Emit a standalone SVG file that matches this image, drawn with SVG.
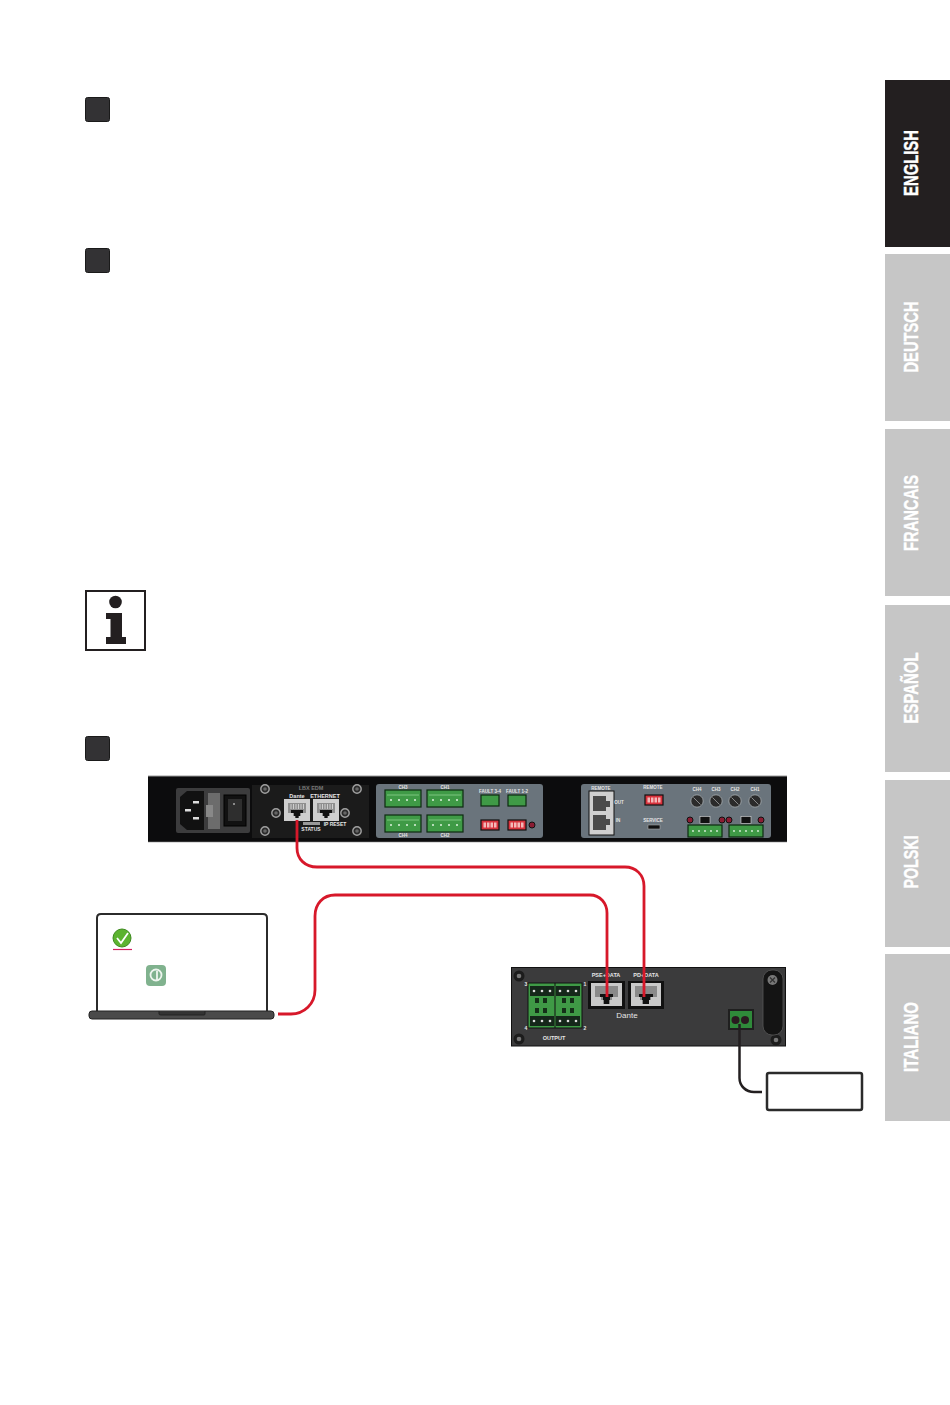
<svg xmlns="http://www.w3.org/2000/svg" xmlns:xlink="http://www.w3.org/1999/xlink" width="950" height="1405" viewBox="0 0 950 1405">
<style>
.tab{fill:#c6c6c6}
.tabt{font-family:"Liberation Sans",Arial,sans-serif;font-weight:700;font-size:21px;fill:#fff;stroke:#fff;stroke-width:.4;text-anchor:middle}
.step{fill:#333234;stroke:#1a1a1a;stroke-width:1}
.w{font-family:"Liberation Sans",Arial,sans-serif;font-weight:700;fill:#e6e6e6;text-anchor:middle}
.red{fill:none;stroke:#d7182a;stroke-width:2.8}
.blk{fill:none;stroke:#231f20;stroke-width:2.500}
.screw{fill:#2a2a2a;stroke:#a0a0a0;stroke-width:1.400}
.panel{fill:#6a747c}
.grn{fill:#3f9a46;stroke:#0d2b10;stroke-width:1.200}
.dip{fill:#d8323c;stroke:#111;stroke-width:1.200}
.sw{fill:#f3b9b9}
.led{fill:#8b1d33;stroke:#111;stroke-width:1}
.knob{fill:#2b2b2b;stroke:#aab0b4;stroke-width:.8}
</style>
<defs>
<g id="rj">
<rect x="0" y="0" width="26" height="22" fill="#cfcfcf"/>
<path d="M4 4H22V14H17V17H15V19H11V17H9V14H4Z" fill="#8f8f8f"/>
<path d="M7 11H19V14H16V17H14.500V19H11.500V17H10V14H7Z" fill="#111"/>
<path d="M7 5V10M9.500 5V10M12 5V10M14.500 5V10M17 5V10M19.500 5V10" stroke="#e0e0e0" stroke-width=".8"/>
</g>
<g id="term">
<rect x="0" y="0" width="36" height="17" class="grn"/>
<path d="M2 5H34" stroke="#7cc57f" stroke-width="1"/>
<circle cx="6" cy="10" r="1" fill="#dff2df"/><circle cx="14" cy="10" r="1" fill="#dff2df"/><circle cx="22" cy="10" r="1" fill="#dff2df"/><circle cx="30" cy="10" r="1" fill="#dff2df"/>
</g>
<g id="term5">
<rect x="0" y="0" width="34" height="12" class="grn"/>
<circle cx="5" cy="6" r=".9" fill="#dff2df"/><circle cx="11" cy="6" r=".9" fill="#dff2df"/><circle cx="17" cy="6" r=".9" fill="#dff2df"/><circle cx="23" cy="6" r=".9" fill="#dff2df"/><circle cx="29" cy="6" r=".9" fill="#dff2df"/>
</g>
<g id="dip4">
<rect x="0" y="0" width="18" height="10" class="dip"/>
<rect x="2.500" y="2.500" width="2.500" height="5" class="sw"/><rect x="6" y="2.500" width="2.500" height="5" class="sw"/><rect x="9.500" y="2.500" width="2.500" height="5" class="sw"/><rect x="13" y="2.500" width="2.500" height="5" class="sw"/>
</g>
<g id="knob"><circle r="6.200" class="knob"/><path d="M-3.500 -3.500L3.500 3.500" stroke="#888" stroke-width="1"/></g>
<g id="scr"><circle r="4.200" class="screw"/><circle r="1.800" fill="#666"/></g>
<g id="scr2"><circle r="5.500" fill="#1c1c1c"/><circle r="2.300" fill="#777"/></g>
<g id="blk3"><rect width="24" height="10" fill="#15271a"/><circle cx="4" cy="5" r="1.300" fill="#ddd"/><circle cx="12" cy="5" r="1.300" fill="#ddd"/><circle cx="20" cy="5" r="1.300" fill="#ddd"/></g>
</defs>
<rect width="950" height="1405" fill="#fff"/>

<g id="tab-english"><rect x="885" y="80" width="65" height="167" fill="#231f20"/><text class="tabt" transform="translate(918 163) rotate(-90)" textLength="66" lengthAdjust="spacingAndGlyphs">ENGLISH</text></g>
<g id="tab-deutsch"><rect class="tab" x="885" y="254" width="65" height="167"/><text class="tabt" transform="translate(918 337) rotate(-90)" textLength="71" lengthAdjust="spacingAndGlyphs">DEUTSCH</text></g>
<g id="tab-francais"><rect class="tab" x="885" y="429" width="65" height="167"/><text class="tabt" transform="translate(918 513) rotate(-90)" textLength="76" lengthAdjust="spacingAndGlyphs">FRANCAIS</text></g>
<g id="tab-espanol"><rect class="tab" x="885" y="605" width="65" height="167"/><text class="tabt" transform="translate(918 688) rotate(-90)" textLength="71" lengthAdjust="spacingAndGlyphs">ESPAÑOL</text></g>
<g id="tab-polski"><rect class="tab" x="885" y="780" width="65" height="167"/><text class="tabt" transform="translate(918 862) rotate(-90)" textLength="53" lengthAdjust="spacingAndGlyphs">POLSKI</text></g>
<g id="tab-italiano"><rect class="tab" x="885" y="954" width="65" height="167"/><text class="tabt" transform="translate(918 1037) rotate(-90)" textLength="70" lengthAdjust="spacingAndGlyphs">ITALIANO</text></g>

<g id="step-1"><rect class="step" x="85.500" y="97.500" width="24" height="24" rx="2"/></g>
<g id="step-2"><rect class="step" x="85.500" y="248.500" width="24" height="24" rx="2"/></g>
<g id="step-3"><rect class="step" x="85.500" y="736.500" width="24" height="24" rx="2"/></g>

<g id="info-icon">
<rect x="86" y="591" width="59" height="59" fill="#fff" stroke="#231f20" stroke-width="2"/>
<circle cx="115.500" cy="602" r="6.300" fill="#231f20"/>
<path d="M106 613H122V637H126V644H106V637H110.500V619H106Z" fill="#231f20"/>
</g>

<g id="rack-unit">
<rect x="148" y="776" width="639" height="66" fill="#0c0c0d"/>
<path d="M148 776H787" stroke="#9a9a9a" stroke-width="1"/>
<path d="M148 842H787" stroke="#8a8a8a" stroke-width=".6"/>
<g id="power-inlet">
<rect x="176" y="788" width="74" height="45" rx="2" fill="#3c3c3d"/>
<path d="M180 797L187 791H204V830H187L180 824Z" fill="#111"/>
<rect x="193" y="801" width="6" height="2.500" fill="#ddd"/><rect x="185" y="809" width="6" height="2.500" fill="#ddd"/><rect x="193" y="817" width="6" height="2.500" fill="#ddd"/>
<rect x="208" y="793" width="12" height="36" fill="#6c6c6c"/>
<rect x="206" y="805" width="7" height="12" fill="#888"/>
<rect x="224" y="795" width="22" height="31" fill="#111" stroke="#000"/>
<rect x="228" y="799" width="14" height="22" fill="#2e2e2e"/>
<circle cx="234" cy="804" r="1" fill="#aaa"/>
</g>
<g id="dante-section">
<rect x="252" y="785" width="117" height="53" fill="#1b1b1b"/>
<use xlink:href="#scr" href="#scr" x="265" y="789"/><use xlink:href="#scr" href="#scr" x="357" y="789"/>
<use xlink:href="#scr" href="#scr" x="265" y="831"/><use xlink:href="#scr" href="#scr" x="357" y="831"/>
<use xlink:href="#scr" href="#scr" x="276" y="813"/><use xlink:href="#scr" href="#scr" x="345" y="813"/>
<text class="w" x="311" y="790" font-size="5.500" style="fill:#777">LBX EDM</text>
<text class="w" x="297" y="798" font-size="5.500">Dante</text>
<text class="w" x="325" y="798" font-size="5.500">ETHERNET</text>
<use xlink:href="#rj" href="#rj" x="284" y="799"/><use xlink:href="#rj" href="#rj" x="313" y="799"/>
<rect x="303" y="822" width="17" height="3" fill="#999"/>
<text class="w" x="311" y="831" font-size="5">STATUS</text>
<text class="w" x="335" y="826" font-size="5">IP RESET</text>
</g>
<g id="audio-panel">
<rect class="panel" x="376" y="784" width="167" height="54" rx="3"/>
<use xlink:href="#term" href="#term" x="385" y="790"/><use xlink:href="#term" href="#term" x="427" y="790"/>
<use xlink:href="#term" href="#term" x="385" y="815"/><use xlink:href="#term" href="#term" x="427" y="815"/>
<text class="w" x="403" y="789" font-size="4.500">CH3</text><text class="w" x="445" y="789" font-size="4.500">CH1</text>
<text class="w" x="403" y="837" font-size="4.500">CH4</text><text class="w" x="445" y="837" font-size="4.500">CH2</text>
<rect class="grn" x="481" y="795" width="18" height="11"/><rect class="grn" x="508" y="795" width="18" height="11"/>
<text class="w" x="490" y="793" font-size="4.500">FAULT 3-4</text><text class="w" x="517" y="793" font-size="4.500">FAULT 1-2</text>
<use xlink:href="#dip4" href="#dip4" x="481" y="820"/><use xlink:href="#dip4" href="#dip4" x="508" y="820"/>
<circle class="led" cx="532" cy="825" r="3"/>
</g>
<g id="control-panel">
<rect class="panel" x="581" y="784" width="190" height="54" rx="3"/>
<rect x="589" y="791" width="25" height="44" fill="#cfcfcf" stroke="#111"/>
<path d="M593 796H606V801H610V807H606V811H593Z" fill="#4a4a4a"/>
<path d="M593 815H606V819H610V825H606V830H593Z" fill="#4a4a4a"/>
<text class="w" x="601" y="790" font-size="4.500">REMOTE</text>
<text class="w" x="619" y="804" font-size="4.500">OUT</text><text class="w" x="618" y="822" font-size="4.500">IN</text>
<text class="w" x="653" y="789" font-size="4.500">REMOTE</text>
<use xlink:href="#dip4" href="#dip4" x="645" y="795"/>
<text class="w" x="653" y="822" font-size="4.500">SERVICE</text>
<rect x="648" y="825" width="12" height="4" fill="#111" stroke="#aaa" stroke-width=".6"/>
<use xlink:href="#knob" href="#knob" x="697" y="801"/><use xlink:href="#knob" href="#knob" x="716" y="801"/><use xlink:href="#knob" href="#knob" x="735" y="801"/><use xlink:href="#knob" href="#knob" x="755" y="801"/>
<text class="w" x="697" y="791" font-size="4.500">CH4</text><text class="w" x="716" y="791" font-size="4.500">CH3</text><text class="w" x="735" y="791" font-size="4.500">CH2</text><text class="w" x="755" y="791" font-size="4.500">CH1</text>
<use xlink:href="#term5" href="#term5" x="688" y="825"/><use xlink:href="#term5" href="#term5" x="729" y="825"/>
<circle class="led" cx="690" cy="820" r="3"/><circle class="led" cx="722" cy="820" r="3"/><circle class="led" cx="729" cy="820" r="3"/><circle class="led" cx="761" cy="820" r="3"/>
<rect x="700" y="816.500" width="10" height="7" fill="#111" stroke="#ddd" stroke-width=".6"/><rect x="741" y="816.500" width="10" height="7" fill="#111" stroke="#ddd" stroke-width=".6"/>
</g>
</g>

<g id="laptop">
<path d="M97 1012V918Q97 914 101 914H263Q267 914 267 918V1012" fill="#fff" stroke="#2b2b2b" stroke-width="2"/>
<rect x="89" y="1011" width="185" height="8" rx="3" fill="#4a4a4a" stroke="#222" stroke-width="1"/>
<path d="M159 1011V1014Q159 1015 161 1015H204Q205 1015 205 1014V1011" fill="#333" stroke="#222"/>
<circle cx="122" cy="938" r="9" fill="#5cb32f" stroke="#3d8a1e"/>
<path d="M117 938L121 943L128 933" fill="none" stroke="#fff" stroke-width="1.800"/>
<path d="M113 949.500H132" stroke="#d21f5e" stroke-width="1.200"/>
<rect x="146" y="965" width="20" height="21" rx="4" fill="#80b28e"/>
<circle cx="156" cy="975" r="5.500" fill="none" stroke="#eef5ef" stroke-width="1.800"/>
<path d="M157 971V980" stroke="#eef5ef" stroke-width="1.800"/>
</g>

<g id="amplifier">
<rect x="511.500" y="967.500" width="274" height="78.500" fill="#3b3b3c" stroke="#111" stroke-width="1"/>
<use xlink:href="#scr2" href="#scr2" x="519" y="976"/><use xlink:href="#scr2" href="#scr2" x="519" y="1039"/><use xlink:href="#scr2" href="#scr2" x="776" y="1040"/>
<g id="output-terminal">
<rect x="528" y="983" width="54" height="45" fill="#3f9a46" stroke="#111"/>
<path d="M555 983V1028" stroke="#111" stroke-width="1"/>
<use xlink:href="#blk3" href="#blk3" x="530" y="986"/><use xlink:href="#blk3" href="#blk3" x="556" y="986"/>
<use xlink:href="#blk3" href="#blk3" x="530" y="1016"/><use xlink:href="#blk3" href="#blk3" x="556" y="1016"/>
<rect x="535" y="998" width="4" height="5" fill="#143018"/><rect x="543" y="998" width="4" height="5" fill="#143018"/><rect x="562" y="998" width="4" height="5" fill="#143018"/><rect x="570" y="998" width="4" height="5" fill="#143018"/>
<rect x="535" y="1008" width="4" height="5" fill="#143018"/><rect x="543" y="1008" width="4" height="5" fill="#143018"/><rect x="562" y="1008" width="4" height="5" fill="#143018"/><rect x="570" y="1008" width="4" height="5" fill="#143018"/>
<text class="w" x="526" y="986" font-size="5">3</text><text class="w" x="585" y="986" font-size="5">1</text>
<text class="w" x="526" y="1030" font-size="5">4</text><text class="w" x="585" y="1030" font-size="5">2</text>
<text class="w" x="554" y="1040" font-size="5.500">OUTPUT</text>
</g>
<rect x="588" y="981" width="37" height="28" fill="#111"/><rect x="628" y="981" width="36" height="28" fill="#111"/>
<rect x="591" y="983" width="31" height="23" fill="#c9c9c9"/><rect x="631" y="983" width="30" height="23" fill="#c9c9c9"/>
<path d="M595 986H618V997H612V1000H610V1004H603V1000H601V997H595Z" fill="#8a8a8a"/>
<path d="M635 986H657V997H651V1000H649V1004H642V1000H640V997H635Z" fill="#8a8a8a"/>
<path d="M600 994H613V997H610V1000H609V1004H604V1000H603V997H600Z" fill="#111"/>
<path d="M639 994H653V997H650V1000H649V1004H643V1000H642V997H639Z" fill="#111"/>
<text class="w" x="606" y="977" font-size="5.500">PSE+DATA</text>
<text class="w" x="646" y="977" font-size="5.500">PD+DATA</text>
<text class="w" x="627" y="1018" font-size="8" style="font-weight:400">Dante</text>
<rect x="728" y="1009" width="26" height="21" fill="#1f1f1f"/>
<rect x="730" y="1011" width="22" height="17" fill="#2f8a3a"/>
<circle cx="735.500" cy="1020" r="4" fill="#2a1a20"/><circle cx="745" cy="1020" r="4" fill="#2a1a20"/>
<rect x="763" y="970" width="20" height="65" rx="9" fill="#141414" stroke="#555" stroke-width=".8"/>
<circle cx="772.500" cy="980" r="5" fill="#777"/>
<path d="M770 977.500L775 982.500M775 977.500L770 982.500" stroke="#333" stroke-width="1.200"/>
</g>

<g id="power-supply"><rect x="767" y="1073" width="95" height="37" rx="2" fill="#fff" stroke="#2b2b2b" stroke-width="2.500"/></g>

<g id="connectors">
<path class="red" d="M297 820V848C297 859 305 867 317 867H625C636 867 644 875 644 886V997"/>
<path class="red" d="M278 1014H291C304 1014 315 1004 315 990V916C315 904 323 895 335 895H590C600 895 607 903 607 913V997"/>
<path class="blk" d="M739.500 1024V1078C739.500 1086 746 1092 754 1092H762"/>
</g>
</svg>
